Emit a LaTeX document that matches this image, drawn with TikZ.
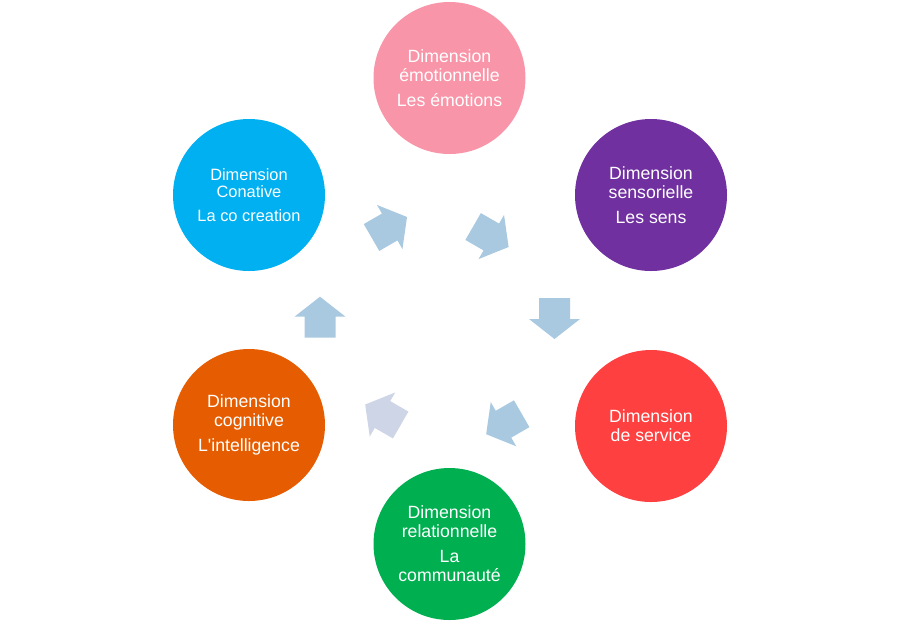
\documentclass[tikz,border=0pt]{standalone}
\usepackage{fontspec}
\setmainfont{Liberation Sans}[Ligatures=TeXOff]
\definecolor{emopink}{HTML}{F995A8}
\definecolor{senspurple}{HTML}{7030A0}
\definecolor{servred}{HTML}{FF4040}
\definecolor{relgreen}{HTML}{00B050}
\definecolor{cogorange}{HTML}{E65C00}
\definecolor{conblue}{HTML}{00B0F0}
\definecolor{arrowblue}{HTML}{A9C9E1}
\definecolor{arrowgrey}{HTML}{CED5E6}
\tikzset{
  dimcircle/.style={circle,minimum size=76pt,inner sep=0pt,text=white,align=center,
    font=\fontsize{8.85}{9.5}\selectfont},
  cyclearrow/.pic={\fill (-21,-15.5)--(0,-15.5)--(0,-25.5)--(20,0)--(0,25.5)--(0,15.5)--(-21,15.5)--cycle;}
}
\begin{document}
\begin{tikzpicture}[x=0.5pt,y=-0.5pt]
                \useasboundingbox (0,0) rectangle (900,623);
                % circles
                \node[dimcircle,fill=emopink] (emo) at (449.5,78) {Dimension\\émotionnelle\\[3pt]Les émotions};
                \node[dimcircle,fill=senspurple] (sens) at (651,195) {Dimension\\sensorielle\\[3pt]Les sens};
                \node[dimcircle,fill=servred] (serv) at (651,426) {Dimension\\de service};
                \node[dimcircle,fill=relgreen] (rel) at (449.5,544) {Dimension\\relationnelle\\[3pt]La\\communauté};
                \node[dimcircle,fill=cogorange] (cog) at (249,425) {Dimension\\cognitive\\[3pt]L'intelligence};
                \node[dimcircle,fill=conblue,font=\fontsize{8.2}{8.8}\selectfont] (con) at (249,195) {Dimension\\Conative\\[3pt]La co creation};
                % arrows
                \path[arrowblue] (389.7,227) pic[rotate=30]{cyclearrow};
                \path[arrowblue] (491.3,237) pic[rotate=-30]{cyclearrow};
                \path[arrowblue] (554.5,319) pic[rotate=-90]{cyclearrow};
                \path[arrowblue] (503.5,424.2) pic[rotate=210]{cyclearrow};
                \path[arrowgrey] (382.5,414.5) pic[rotate=150]{cyclearrow};
                \path[arrowblue] (320,316.7) pic[rotate=90]{cyclearrow};
\end{tikzpicture}
\end{document}
